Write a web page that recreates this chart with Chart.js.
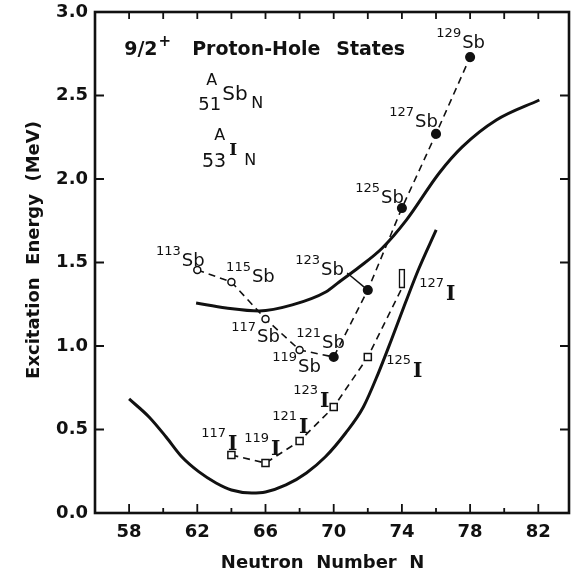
<!DOCTYPE html>
<html>
<head>
<meta charset="utf-8">
<script src="https://cdn.jsdelivr.net/npm/chart.js@4.4.0/dist/chart.umd.min.js"></script>
<style>
  html, body { margin: 0; padding: 0; background: #fff; }
  #wrap { width: 571px; height: 577px; }
</style>
</head>
<body>
<div id="wrap"><canvas id="chart" width="571" height="577"></canvas></div>
<script>
// Sb (Z = 51) 9/2+ proton-hole states
const sbN = [62, 64, 66, 68, 70, 72, 74, 76, 78];
const sbE = [1.455, 1.383, 1.162, 0.976, 0.934, 1.335, 1.826, 2.27, 2.73];
const sbMass = [113, 115, 117, 119, 121, 123, 125, 127, 129];

// I (Z = 53) 9/2+ proton-hole states
const iN = [64, 66, 68, 70, 72];
const iE = [0.347, 0.299, 0.431, 0.635, 0.934];
const iMass = [117, 119, 121, 123, 125];

// 127I only known as a range
const i127N = 74;
const i127E = [1.347, 1.461];

// solid curves (calculation)
const sbCurveN = [61.93, 63.69, 65.63, 67.57, 69.56, 70.32, 71.5, 72.85, 74.26, 76.19, 77.54, 79.54, 82.06];
const sbCurveE = [1.257, 1.228, 1.210, 1.246, 1.325, 1.383, 1.473, 1.587, 1.754, 2.036, 2.192, 2.353, 2.473];
const iCurveN = [58, 59.17, 60.17, 61.1, 62.1, 63.1, 64, 65.2, 66, 67.2, 68.4, 69.5, 70.7, 71.74, 72.62, 73.38, 74.2, 74.96, 76.01];
const iCurveE = [0.683, 0.575, 0.455, 0.335, 0.246, 0.18, 0.138, 0.12, 0.126, 0.168, 0.24, 0.335, 0.479, 0.635, 0.838, 1.036, 1.257, 1.455, 1.695];

const xTickLabels = [58, 62, 66, 70, 74, 78, 82];
const xMinorTicks = [60, 64, 68, 72, 76, 80];
const yTickLabels = [0, 0.5, 1.0, 1.5, 2.0, 2.5, 3.0];


const INK = '#111';
const SANS = "'DejaVu Sans', sans-serif";
const SERIF = "'DejaVu Serif', serif";

function pts(xs, ys) {
    return xs.map((x, k) => ({x: x, y: ys[k]}));
}

// label anchors: left edge of mass number, baseline of symbol (data units)
const sbLabelAt = [
    [59.58, 1.479], [63.69, 1.383], [63.99, 1.024], [66.39, 0.844], [67.80, 0.988],
    [67.74, 1.425], [71.26, 1.856], [73.26, 2.311], [76.02, 2.784]
];
const iLabelAt = [
    [62.23, 0.377], [64.75, 0.347], [66.39, 0.479], [67.62, 0.635], [73.08, 0.814]
];
const i127LabelAt = [75.02, 1.275];

function drawIsotope(ctx, x, y, mass, sym, serif) {
    ctx.font = '13px ' + SANS;
    ctx.fillText(String(mass), x, y - (serif ? 13 : 11));
    const w = ctx.measureText(String(mass)).width;
    ctx.font = serif ? 'bold 20px ' + SERIF : '18px ' + SANS;
    ctx.fillText(sym, x + w + (serif ? 2 : 1), y);
}

const annotations = {
    id: 'annotations',
    afterDatasetsDraw(chart) {
        const {ctx, scales: {x, y}} = chart;
        const at = (n, e) => [x.getPixelForValue(n), y.getPixelForValue(e)];
        ctx.save();
        ctx.fillStyle = INK;
        ctx.textBaseline = 'alphabetic';
        ctx.textAlign = 'left';

        sbMass.forEach((m, k) => {
            const [px, py] = at(sbLabelAt[k][0], sbLabelAt[k][1]);
            drawIsotope(ctx, px, py, m, 'Sb', false);
        });
        iMass.forEach((m, k) => {
            const [px, py] = at(iLabelAt[k][0], iLabelAt[k][1]);
            drawIsotope(ctx, px, py, m, 'I', true);
        });
        {
            const [px, py] = at(i127LabelAt[0], i127LabelAt[1]);
            drawIsotope(ctx, px, py, 127, 'I', true);
        }

        // title
        let [tx, ty] = at(57.71, 2.743);
        ctx.font = 'bold 19px ' + SANS;
        ctx.fillText('9/2', tx, ty);
        let w = ctx.measureText('9/2').width;
        ctx.font = 'bold 15px ' + SANS;
        ctx.fillText('+', tx + w + 1, ty - 9);
        ctx.font = 'bold 19px ' + SANS;
        [tx, ty] = at(61.70, 2.743);
        ctx.fillText('Proton-Hole', tx, ty);
        [tx, ty] = at(70.15, 2.743);
        ctx.fillText('States', tx, ty);

        // A/51/Sb/N
        let [sx, sy] = at(63.46, 2.473);
        ctx.font = '20px ' + SANS;
        ctx.fillText('Sb', sx, sy);
        ctx.font = '16px ' + SANS;
        ctx.fillText('A', sx - 16, sy - 15);
        ctx.fillText('N', sx + 29, sy + 8);
        ctx.font = '18px ' + SANS;
        ctx.textAlign = 'right';
        ctx.fillText('51', sx - 1, sy + 10);

        // A/53/I/N
        [sx, sy] = at(63.87, 2.144);
        ctx.textAlign = 'left';
        ctx.font = 'bold 17px ' + SERIF;
        ctx.fillText('I', sx, sy);
        ctx.font = '16px ' + SANS;
        ctx.fillText('A', sx - 15, sy - 15);
        ctx.fillText('N', sx + 15, sy + 10);
        ctx.font = '19px ' + SANS;
        ctx.textAlign = 'right';
        ctx.fillText('53', sx - 3, sy + 12);
        ctx.restore();
    }
};

// box and inward ticks on all four sides
const frame = {
    id: 'frame',
    afterDraw(chart) {
        const {ctx, chartArea: a, scales: {x, y}} = chart;
        ctx.save();
        ctx.strokeStyle = INK;
        ctx.lineWidth = 1.8;
        ctx.beginPath();
        xTickLabels.concat(xMinorTicks).forEach(v => {
            const p = x.getPixelForValue(v);
            const len = xTickLabels.includes(v) ? 9 : 5;
            ctx.moveTo(p, a.bottom);
            ctx.lineTo(p, a.bottom - len);
            ctx.moveTo(p, a.top);
            ctx.lineTo(p, a.top + 7);
        });
        yTickLabels.forEach(v => {
            const p = y.getPixelForValue(v);
            ctx.moveTo(a.left, p);
            ctx.lineTo(a.left + 9, p);
            ctx.moveTo(a.right, p);
            ctx.lineTo(a.right - 9, p);
        });
        ctx.stroke();
        ctx.lineWidth = 2.6;
        ctx.strokeRect(a.left, a.top, a.right - a.left, a.bottom - a.top);
        ctx.restore();
    }
};

const tickFont = {family: SANS, size: 18, weight: 'bold'};

new Chart(document.getElementById('chart'), {
    type: 'scatter',
    data: {
        datasets: [
            {
                // Sb levels
                data: pts(sbN, sbE),
                showLine: true,
                borderColor: INK,
                borderWidth: 1.6,
                borderDash: [7, 5],
                pointRadius: sbMass.map(m => m < 121 ? 3.5 : 4.3),
                pointBorderWidth: 1.5,
                pointBorderColor: INK,
                pointBackgroundColor: sbMass.map(m => m < 121 ? '#fff' : INK)
            },
            {
                // I levels, dashed up to the bottom of the 127I box
                data: pts(iN, iE).concat([{x: i127N, y: i127E[0]}]),
                showLine: true,
                borderColor: INK,
                borderWidth: 1.6,
                borderDash: [7, 5],
                pointStyle: 'rect',
                pointRadius: iN.map(() => 5).concat([0]),
                pointBorderWidth: 1.5,
                pointBorderColor: INK,
                pointBackgroundColor: '#fff'
            },
            {
                // 127I range
                type: 'bar',
                data: [{x: i127N, y: i127E}],
                barThickness: 6,
                backgroundColor: '#fff',
                borderColor: INK,
                borderWidth: 1.6,
                borderSkipped: false
            },
            {
                // leader from 123Sb label
                data: [{x: 70.79, y: 1.437}, {x: sbN[5], y: sbE[5]}],
                showLine: true,
                borderColor: INK,
                borderWidth: 1.5,
                pointRadius: 0
            },
            {
                data: pts(sbCurveN, sbCurveE),
                showLine: true,
                borderColor: INK,
                borderWidth: 3,
                cubicInterpolationMode: 'monotone',
                pointRadius: 0
            },
            {
                data: pts(iCurveN, iCurveE),
                showLine: true,
                borderColor: INK,
                borderWidth: 3,
                cubicInterpolationMode: 'monotone',
                pointRadius: 0
            }
        ]
    },
    options: {
        responsive: false,
        animation: false,
        layout: {autoPadding: false, padding: {top: 12, right: 2, left: 0, bottom: 0}},
        plugins: {
            legend: {display: false},
            tooltip: {enabled: false}
        },
        scales: {
            x: {
                type: 'linear',
                min: 56,
                max: 83.8,
                offset: false,
                afterBuildTicks: s => { s.ticks = xTickLabels.map(v => ({value: v})); },
                afterFit: s => {
                    s.height = 64;
                    s.paddingLeft = 0;
                    s.paddingRight = 0;
                },
                grid: {display: false, drawTicks: false},
                border: {display: false},
                ticks: {color: INK, font: tickFont, padding: 9, maxRotation: 0, autoSkip: false},
                title: {
                    display: true,
                    text: 'Neutron  Number  N   ',
                    color: INK,
                    font: tickFont,
                    padding: {top: 0, bottom: 3}
                }
            },
            y: {
                type: 'linear',
                min: 0,
                max: 3,
                afterBuildTicks: s => { s.ticks = yTickLabels.map(v => ({value: v})); },
                afterFit: s => {
                    s.width = 95;
                    s.paddingTop = 0;
                    s.paddingBottom = 0;
                },
                grid: {display: false, drawTicks: false},
                border: {display: false},
                ticks: {color: INK, font: tickFont, padding: 7, callback: v => v.toFixed(1)},
                title: {
                    display: true,
                    text: '    Excitation  Energy  (MeV)',
                    color: INK,
                    font: tickFont,
                    padding: {top: 24, bottom: 0}
                }
            }
        }
    },
    plugins: [annotations, frame]
});
</script>
</body>
</html>
